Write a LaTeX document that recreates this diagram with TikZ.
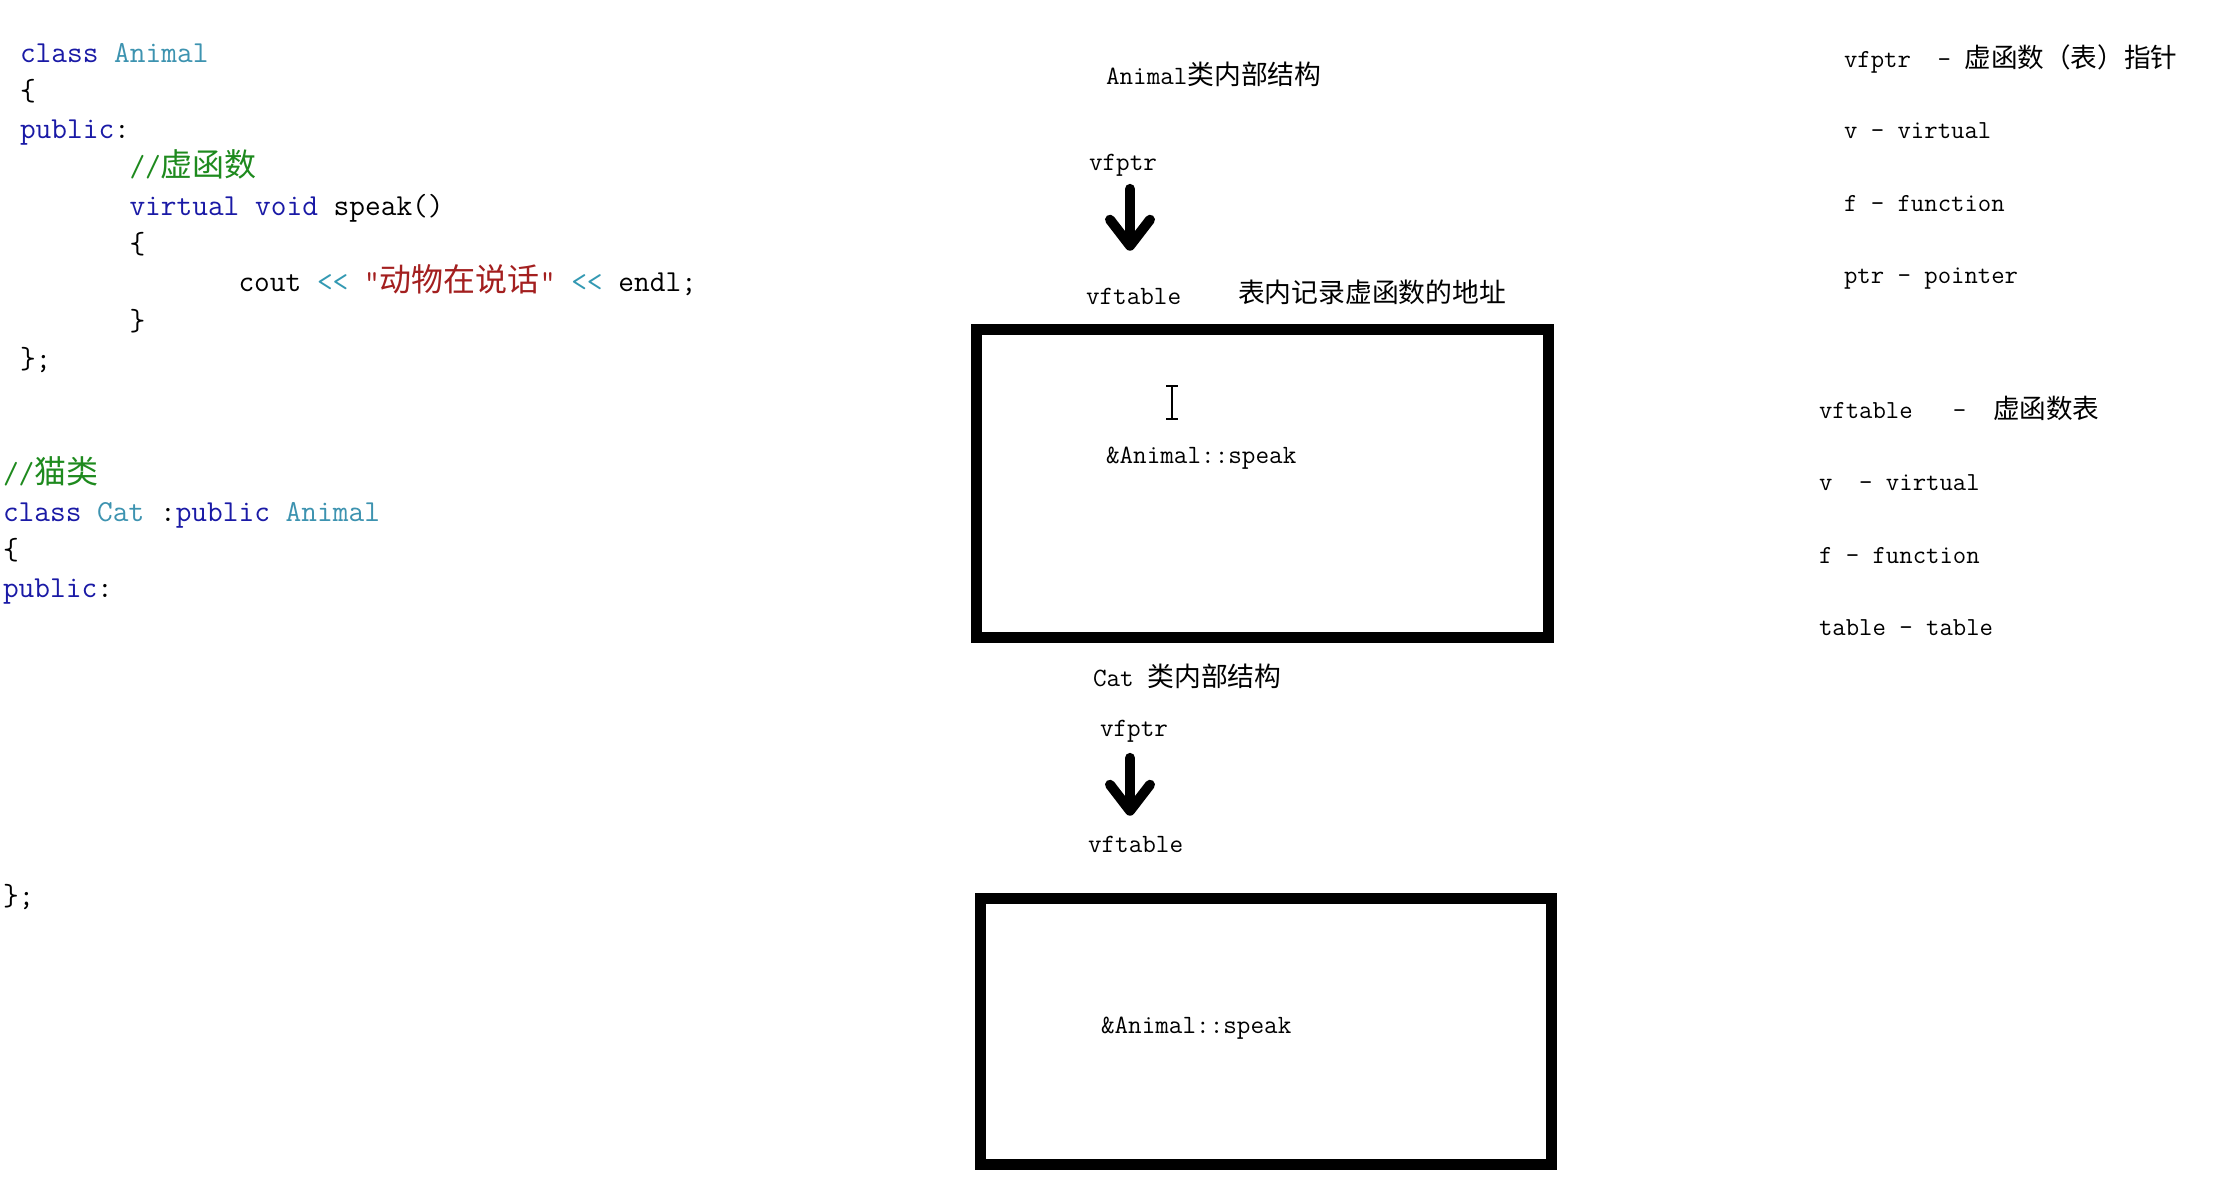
\documentclass[tikz,border=0pt]{standalone}
\usepackage{fontspec}
\usetikzlibrary{arrows.meta}
\frenchspacing
\newfontfamily\cjkfnt{Noto Sans CJK SC}
\newcommand\monofnt{\ttfamily\addfontfeatures{FakeBold=1.8}}
\newcommand\codefont{\monofnt\fontsize{30.5}{33}\selectfont}
\newcommand\cjkcode[1]{{\cjkfnt\fontsize{32}{34}\selectfont #1}}
\newcommand\lblfont{\monofnt\fontsize{26.4}{29}\selectfont}
\newcommand\cjklbl[1]{{\cjkfnt\fontsize{26.8}{30}\selectfont #1}}
\newcommand\rfont{\monofnt\fontsize{26}{29}\selectfont}
\newcommand\cjkr[1]{{\cjkfnt\fontsize{26.6}{30}\selectfont #1}}
\newcommand\shl{\mbox{<}\mbox{<}}
\definecolor{kw}{HTML}{1A1AA6}
\definecolor{ty}{HTML}{3D93B0}
\definecolor{cm}{HTML}{1E8A1E}
\definecolor{st}{HTML}{A31F1F}
\definecolor{op}{HTML}{3399B3}
\begin{document}
\begin{tikzpicture}[x=1pt,y=-1pt,
  every node/.style={inner sep=0pt, outer sep=0pt},
  code/.style={font=\codefont, anchor=base west, text=black},
  lbl/.style={font=\lblfont, anchor=base west, text=black},
  rlbl/.style={font=\rfont, anchor=base west, text=black},
  tablebox/.style={draw=black, line width=11pt, anchor=center},
  fatarrow/.style={line width=10pt, line cap=round, line join=round,
    -{Straight Barb[length=26pt,width=40pt,round]}},
  ibeam/.style={line width=2pt}]
\useasboundingbox (0,0) rectangle (2226,1191);
\fill[white] (0,0) rectangle (2226,1191);

% ---- Animal code ----
\node[code] (c0) at (20,62) {\textcolor{kw}{class} \textcolor{ty}{Animal}};
\node[code] (c1) at (20,100.3) {\{};
\node[code] (c2) at (20,138.6) {\textcolor{kw}{public}:};
\node[code] (c3) at (129.5,176.9) {\textcolor{cm}{//\cjkcode{虚函数}}};
\node[code] (c4) at (129.5,215.2) {\textcolor{kw}{virtual} \textcolor{kw}{void} speak()};
\node[code] (c5) at (129.5,253.5) {\{};
\node[code] (c6) at (238.5,291.8) {cout \textcolor{op}{\shl} \textcolor{st}{"\cjkcode{动物在说话}"} \textcolor{op}{\shl} endl;};
\node[code] (c7) at (129.5,330.1) {\}};
\node[code] (c8) at (20,368.4) {\};};

% ---- Cat code ----
\node[code] (d0) at (3,483) {\textcolor{cm}{//\cjkcode{猫类}}};
\node[code] (d1) at (3,521.3) {\textcolor{kw}{class} \textcolor{ty}{Cat} :\textcolor{kw}{public} \textcolor{ty}{Animal}};
\node[code] (d2) at (3,559.6) {\{};
\node[code] (d3) at (3,597.9) {\textcolor{kw}{public}:};
\node[code] (d4) at (3,905) {\};};

% ---- Animal structure ----
\node[lbl] (titleA) at (1106,84) {Animal\cjklbl{类内部结构}};
\node[lbl] (vfptrA) at (1089,170) {vfptr};
\node[lbl] (vftableA) at (1086,304) {vftable};
\node[lbl] (noteA) at (1238,302) {\cjklbl{表内记录虚函数的地址}};
\node[tablebox, minimum width=572pt, minimum height=308pt] (boxA) at (1262.5,483.5) {};
\node[lbl] (speakA) at (1106,463) {\&Animal::speak};
\draw[fatarrow, shorten <=13pt, shorten >=37pt] ([xshift=7pt]vfptrA.south) -- ([xshift=7pt]vfptrA.south |- vftableA.north);
\draw[ibeam] (1172,386) -- (1172,419);
\draw[ibeam] (1166,386) -- (1178,386);
\draw[ibeam] (1166,419) -- (1178,419);

% ---- Cat structure ----
\node[lbl] (titleB) at (1093,686) {Cat \cjklbl{类内部结构}};
\node[lbl] (vfptrB) at (1100,736) {vfptr};
\node[lbl] (vftableB) at (1088,852) {vftable};
\node[tablebox, minimum width=571pt, minimum height=266pt] (boxB) at (1266,1031.5) {};
\node[lbl] (speakB) at (1101,1033) {\&Animal::speak};
\draw[fatarrow, shorten <=16pt, shorten >=20pt] ([xshift=-4pt]vfptrB.south) -- ([xshift=-4pt]vfptrB.south |- vftableB.north);

% ---- glossary ----
\node[rlbl] (r1) at (1844,67) {vfptr~~-~\cjkr{虚函数（表）指针}};
\node[rlbl] (r2) at (1844,138) {v~-~virtual};
\node[rlbl] (r3) at (1844,211) {f~-~function};
\node[rlbl] (r4) at (1844,283) {ptr~-~pointer};
\node[rlbl] (r5) at (1819,418) {vftable~~~-~~\cjkr{虚函数表}};
\node[rlbl] (r6) at (1819,490) {v~~-~virtual};
\node[rlbl] (r7) at (1819,563) {f~-~function};
\node[rlbl] (r8) at (1819,635) {table~-~table};
\end{tikzpicture}
\end{document}
